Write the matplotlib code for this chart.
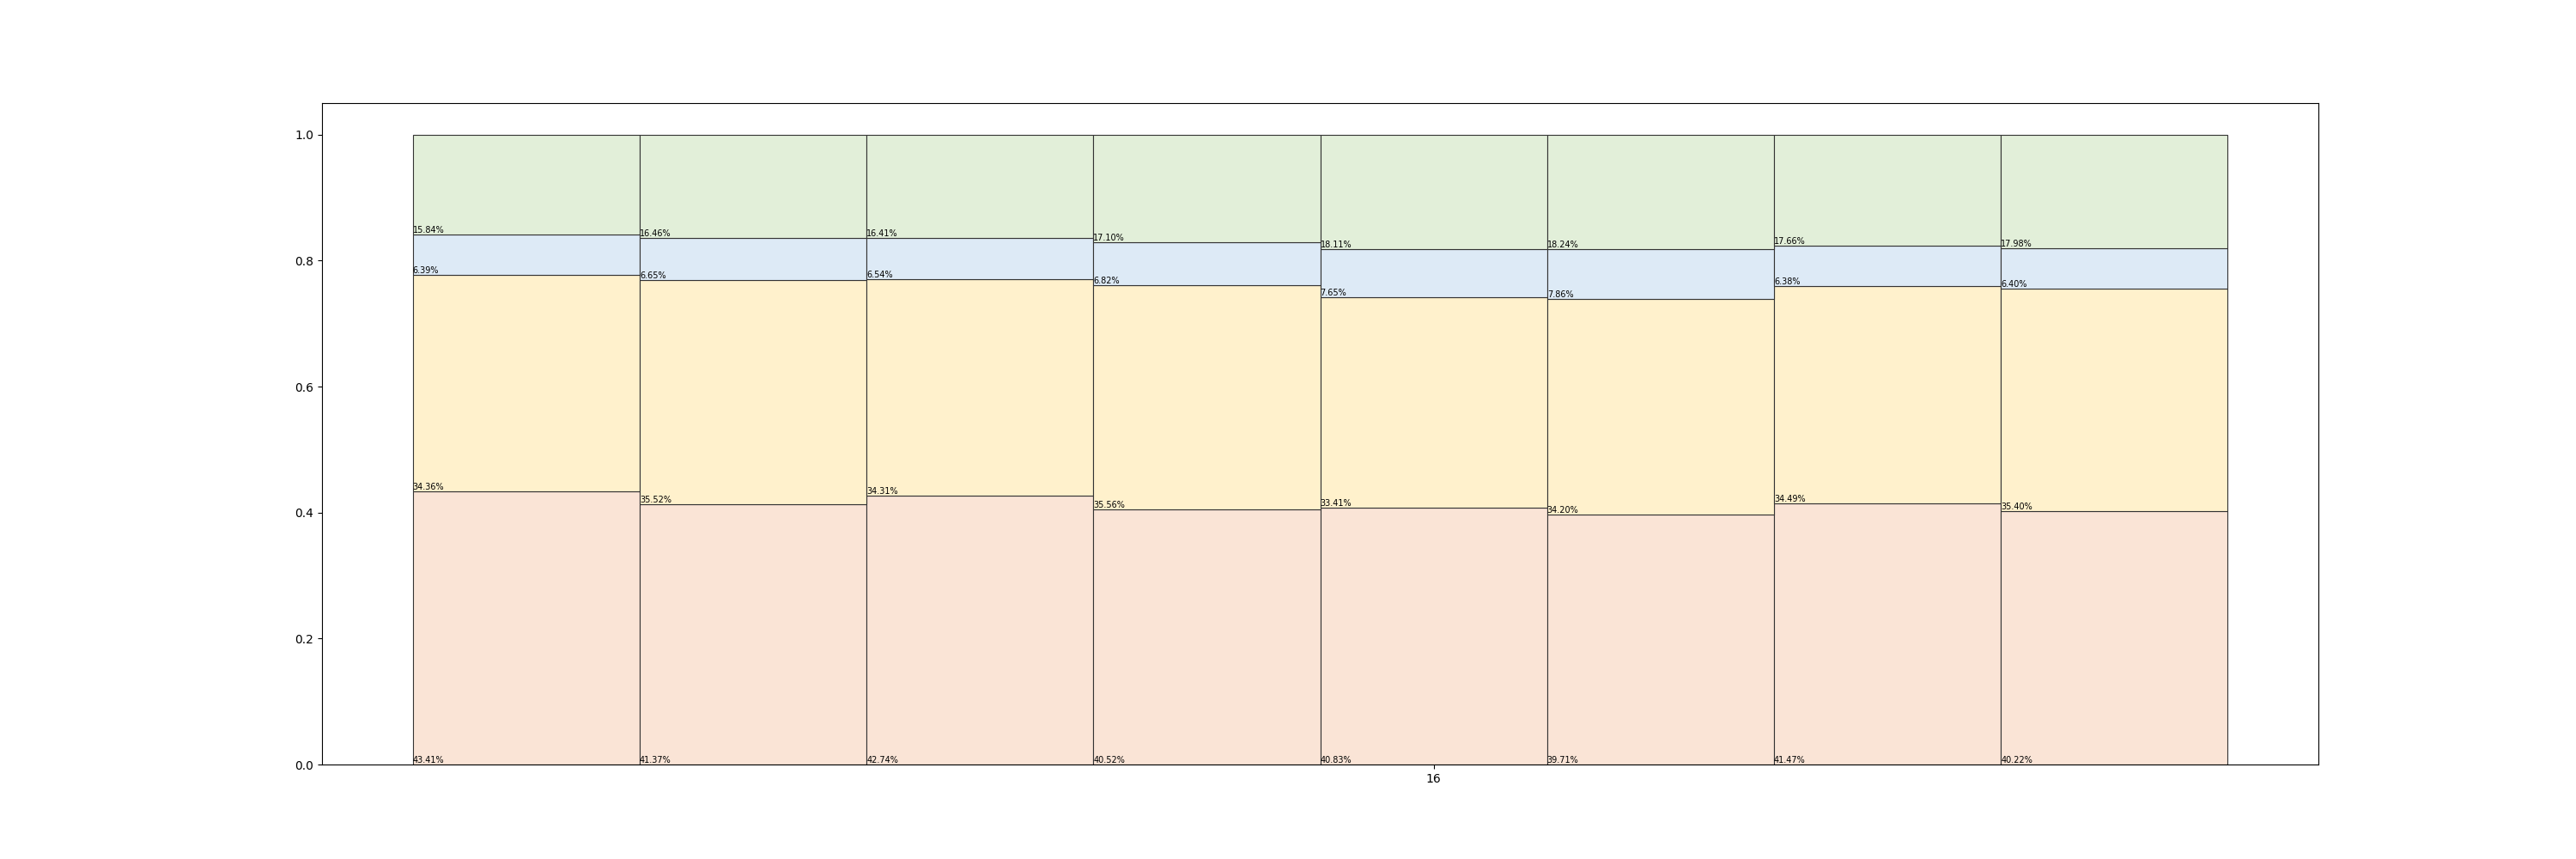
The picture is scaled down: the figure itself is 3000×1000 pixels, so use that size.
import numpy as np
import matplotlib
matplotlib.use("Agg")
import matplotlib.pyplot as plt

# category positions along x (only 16 is labelled)
groups = [12, 13, 14, 15, 16, 17, 18, 19]

# share of each segment per bar, in percent (bottom to top)
seg1 = [43.41, 41.37, 42.74, 40.52, 40.83, 39.71, 41.47, 40.22]
seg2 = [34.36, 35.52, 34.31, 35.56, 33.41, 34.20, 34.49, 35.40]
seg3 = [6.39, 6.65, 6.54, 6.82, 7.65, 7.86, 6.38, 6.40]
seg4 = [15.84, 16.46, 16.41, 17.10, 18.11, 18.24, 17.66, 17.98]

colors = ['#fae4d6', '#fff1cc', '#ddeaf6', '#e2efd9']

fig, ax = plt.subplots(figsize=(30, 10), dpi=100)

bottom = np.zeros(len(groups))
for vals, col in zip([seg1, seg2, seg3, seg4], colors):
    frac = np.array(vals) / 100.0
    ax.bar(groups, frac, width=1.0, bottom=bottom, color=col,
           edgecolor='#333333', linewidth=0.8)
    # label at lower-left corner of each segment
    for x, b, v in zip(groups, bottom, vals):
        ax.text(x - 0.5, b, f"{v:.2f}%", ha='left', va='bottom', fontsize=7)
    bottom += frac

ax.set_xticks([16])
ax.set_xticklabels(['16'])

plt.savefig("out.png")
